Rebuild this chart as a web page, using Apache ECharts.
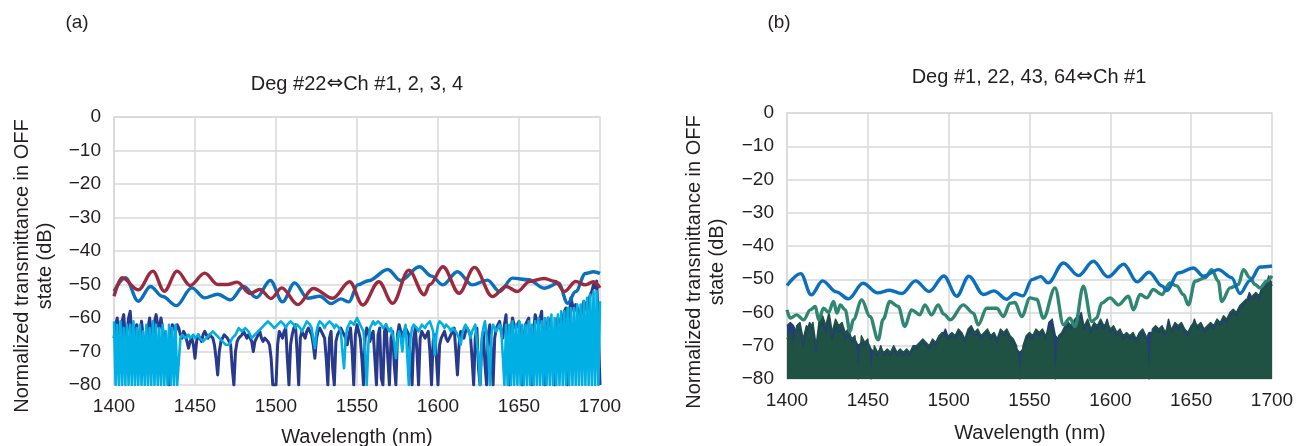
<!DOCTYPE html>
<html>
<head>
<meta charset="utf-8">
<script src="https://cdn.jsdelivr.net/npm/echarts@6/dist/echarts.min.js"></script>
<style>
html, body { margin: 0; padding: 0; background: #fff; }
#main { width: 1299px; height: 446px; }
</style>
</head>
<body>
<div id="main"></div>
<script>
// dense traces start at 1400 nm; (a) sampled every 1 nm, (b) every 2 nm
var gridStart = 1400, stepA = 1, stepB = 2;

// (a) Ch traces, smooth ones given at their turning points
var aBlueX = [1400, 1407, 1415, 1422.5, 1430, 1438.5, 1448, 1456, 1464, 1472, 1480, 1488, 1496.5, 1504, 1511.5, 1519.5, 1527, 1534, 1540, 1545, 1550.5, 1557, 1569, 1577, 1588.5, 1596, 1603, 1612, 1621, 1630.5, 1638, 1646, 1656, 1665.5, 1674.5, 1680, 1685, 1691, 1696, 1700];
var aBlueY = [-52, -48, -55, -50.6, -53.6, -56.3, -51, -54, -52.9, -54.6, -50.6, -53.9, -48.8, -55.2, -49.5, -54.1, -53.5, -55.7, -54.3, -55.2, -50.1, -48.9, -45.5, -48.8, -44.7, -47.5, -50.1, -46.2, -50.1, -48.7, -52.1, -48.1, -48.6, -51.1, -49.6, -55.6, -52.1, -46.7, -46.2, -46.7];
var aRedX = [1400, 1405, 1415, 1424, 1431, 1439, 1447, 1456, 1464, 1470, 1476, 1484, 1490, 1497, 1503.5, 1513.5, 1523, 1535, 1545.5, 1553.5, 1563.5, 1572, 1582, 1591.5, 1595, 1603, 1613, 1622.5, 1633.5, 1642, 1649, 1656.5, 1665.5, 1672.5, 1678, 1685, 1691, 1696, 1700];
var aRedY = [-53.5, -48, -51.6, -46, -52, -46, -50.3, -46.6, -50, -50, -49.3, -52.7, -51.5, -54.2, -51, -56, -51.2, -54.1, -49.2, -56.1, -49.2, -55.6, -45.7, -53.1, -50, -44.7, -52.6, -44.9, -53.6, -50.6, -52.1, -49.1, -48.2, -49.1, -52.1, -49.1, -50.1, -49.2, -51];
var aNavy = [
  -66, -62, -60, -68, -72, -61, -59, -66, -64, -60,
  -58, -65, -70, -63, -62, -68, -67, -61, -61, -70,
  -75, -63, -60, -64, -66, -61, -59, -62, -63, -60,
  -60, -66, -68, -74, -80, -65, -62, -63, -64, -62,
  -63, -65, -66, -64, -65, -67, -69, -67, -66, -68,
  -72, -67, -65, -66, -67, -65, -64, -65, -66, -65,
  -65, -66, -68, -72, -77, -70, -67, -66, -65, -65,
  -66, -67, -68, -75, -80, -70, -67, -66, -66, -65,
  -64, -65, -66, -65, -65, -67, -70, -67, -66, -65,
  -64, -66, -67, -66, -66, -67, -68, -72, -80, -80,
  -80, -68, -64, -65, -66, -64, -63, -72, -80, -68,
  -65, -63, -62, -70, -80, -66, -64, -65, -66, -64,
  -63, -64, -65, -68, -72, -66, -64, -63, -63, -65,
  -66, -72, -80, -66, -64, -75, -80, -67, -65, -64,
  -63, -64, -64, -66, -68, -65, -63, -70, -80, -65,
  -62, -64, -66, -72, -80, -66, -63, -64, -67, -65,
  -64, -72, -80, -65, -63, -78, -80, -64, -62, -72,
  -80, -66, -64, -74, -80, -65, -62, -64, -66, -64,
  -63, -64, -65, -72, -80, -66, -63, -70, -80, -66,
  -64, -65, -66, -65, -64, -70, -80, -67, -65, -72,
  -80, -68, -66, -65, -64, -66, -67, -66, -65, -64,
  -63, -70, -77, -68, -64, -65, -66, -64, -63, -64,
  -65, -72, -80, -66, -63, -75, -80, -68, -64, -74,
  -80, -65, -62, -70, -80, -66, -63, -62, -61, -64,
  -66, -62, -59, -72, -80, -64, -60, -62, -63, -62,
  -61, -70, -80, -66, -62, -61, -60, -72, -80, -64,
  -59, -61, -62, -60, -58, -72, -80, -64, -60, -62,
  -63, -72, -80, -65, -60, -61, -62, -60, -58, -57,
  -80, -60, -54, -56, -58, -56, -56, -58, -60, -57,
  -55, -56, -58, -55, -53, -52, -50, -51, -49, -49,
  -80
];
var aCyan = [
  -61, -80, -62, -80, -61, -80, -63, -80, -62, -80,
  -62, -80, -61, -80, -63, -80, -62, -80, -64, -80,
  -62, -80, -63, -80, -61, -80, -62, -80, -63, -80,
  -62, -80, -64, -80, -62, -80, -63, -80, -62, -80,
  -80, -66, -65, -65, -66, -66, -65, -66, -66, -65,
  -66, -66, -65, -66, -66, -67, -67, -66, -66, -65,
  -65, -64, -64, -65, -65, -66, -66, -67, -67, -68,
  -68, -68, -67, -66, -66, -65, -64, -63, -63, -64,
  -64, -63, -63, -64, -64, -66, -66, -65, -65, -64,
  -64, -63, -63, -62, -62, -61, -61, -62, -62, -63,
  -63, -62, -62, -61, -61, -62, -63, -62, -62, -61,
  -61, -62, -63, -62, -62, -63, -64, -63, -62, -61,
  -61, -62, -63, -66, -69, -64, -62, -61, -61, -62,
  -63, -62, -62, -61, -61, -62, -63, -62, -62, -63,
  -64, -70, -75, -66, -63, -62, -61, -61, -62, -61,
  -60, -61, -62, -63, -64, -70, -80, -68, -63, -62,
  -61, -62, -62, -61, -61, -62, -63, -63, -62, -63,
  -64, -63, -63, -67, -72, -66, -64, -66, -70, -64,
  -62, -71, -80, -66, -63, -62, -62, -63, -64, -63,
  -62, -62, -63, -62, -62, -61, -61, -64, -71, -65,
  -62, -61, -61, -62, -63, -62, -62, -63, -64, -63,
  -63, -64, -65, -66, -68, -65, -63, -62, -62, -64,
  -66, -64, -63, -62, -62, -72, -80, -66, -63, -61,
  -61, -70, -80, -65, -62, -63, -64, -63, -62, -63,
  -63, -80, -62, -80, -62, -80, -61, -80, -62, -80,
  -61, -80, -62, -80, -62, -80, -61, -80, -62, -80,
  -61, -80, -60, -80, -61, -80, -60, -80, -60, -80,
  -59, -80, -60, -80, -59, -80, -58, -80, -58, -80,
  -57, -80, -57, -80, -57, -80, -56, -80, -56, -80,
  -55, -80, -54, -80, -53, -80, -52, -80, -52, -80,
  -55
];

// (b) Deg traces
var bBlueX = [1400, 1408.5, 1415, 1422, 1430.5, 1438, 1447, 1456, 1463.5, 1471, 1479.5, 1488, 1497, 1505, 1512.5, 1521.5, 1528, 1535.8, 1541, 1546, 1551.5, 1557, 1561.5, 1571, 1580.3, 1589.5, 1598.5, 1608.3, 1616.5, 1624, 1632, 1635, 1642, 1651.4, 1657.6, 1666.8, 1675, 1680.2, 1686.4, 1692.6, 1700];
var bBlueY = [-51.9, -48.3, -54.7, -50.5, -53.8, -55.9, -51.2, -54.1, -53.3, -54.3, -50.5, -53.7, -49, -55.1, -49.1, -54.6, -53.5, -56, -54.3, -55, -50.1, -49.2, -51.1, -45.1, -48.9, -44.6, -49.3, -45.5, -50.8, -47.9, -52, -53.4, -48.1, -46.6, -49.1, -47.1, -49.5, -54.3, -50.4, -46.3, -46];
var bTealX = [1400, 1402, 1406, 1410.3, 1414.4, 1417.5, 1419.6, 1422.6, 1425.7, 1428.8, 1430.9, 1433, 1436, 1439, 1441, 1446.2, 1451.3, 1456.4, 1459.5, 1463.6, 1468.8, 1472.9, 1477, 1482.2, 1485.3, 1489.4, 1493.5, 1497, 1501, 1509, 1515.3, 1518.3, 1523.5, 1529.7, 1533.8, 1538, 1541, 1545.2, 1550.3, 1554.4, 1558.6, 1565.8, 1571, 1575, 1578.1, 1583.3, 1588.5, 1591.5, 1594.6, 1599.8, 1605, 1611.2, 1614.3, 1618.4, 1622.5, 1626.6, 1631.8, 1636.9, 1641, 1645.2, 1648.3, 1652.4, 1658.6, 1662.7, 1666.8, 1668.9, 1674.1, 1679.2, 1682.3, 1686.4, 1689.5, 1692.6, 1696.7, 1700];
var bTealY = [-59.2, -61.7, -60.7, -62.2, -59.2, -58.2, -62.2, -58.7, -60, -56.7, -60.2, -57.7, -59.2, -65.7, -62.2, -56.2, -61.2, -68.2, -62, -56.7, -58.2, -64.2, -59.2, -60.7, -57.7, -60.7, -57.7, -60.5, -62.2, -57.7, -60.2, -63.7, -58.7, -58.7, -61.2, -57.2, -57, -61.2, -55.6, -56, -61.7, -52.6, -63.7, -61.7, -64.2, -52.1, -62.7, -61.7, -57.2, -55.6, -57.7, -55.1, -59.2, -54.6, -55.6, -53.1, -54.6, -51.1, -52, -54.6, -57.7, -50.6, -49.6, -47.1, -50.6, -56.7, -52.6, -51.6, -47.1, -49.6, -51.6, -52.6, -50.6, -49];
var bNavy = [
  -64, -63, -64, -66, -65, -70, -66, -63, -65, -72,
  -64, -63, -66, -62, -68, -64, -66, -65, -68, -67,
  -69, -68, -70, -69, -70, -69, -71, -72, -73, -70,
  -73, -72, -73, -71, -73, -72, -73, -72, -73, -71,
  -71, -70, -69, -70, -71, -69, -70, -68, -67, -65,
  -68, -67, -68, -66, -67, -69, -66, -65, -67, -66,
  -68, -67, -66, -68, -67, -69, -66, -67, -66, -68,
  -69, -71, -72, -71, -68, -67, -68, -66, -67, -66,
  -68, -63, -62, -67, -68, -67, -65, -64, -65, -63,
  -62, -60, -65, -63, -66, -64, -65, -63, -65, -62,
  -66, -65, -67, -66, -68, -67, -68, -67, -69, -67,
  -66, -68, -66, -66, -65, -66, -65, -67, -62, -66,
  -64, -65, -64, -66, -67, -65, -62, -65, -64, -66,
  -65, -64, -65, -63, -64, -62, -63, -61, -60, -61,
  -59, -58, -57, -54, -56, -55, -56, -53, -52, -49,
  -52
];
var bGreen = [
  -68, -66, -72, -64, -63, -68, -64, -65, -63, -70,
  -62, -61, -64, -60, -66, -62, -64, -63, -66, -65,
  -68, -67, -80, -67, -69, -68, -80, -70, -72, -71,
  -72, -71, -72, -70, -72, -71, -72, -71, -72, -70,
  -70, -69, -68, -69, -70, -68, -69, -67, -66, -68,
  -67, -66, -67, -65, -66, -68, -65, -64, -66, -65,
  -67, -66, -65, -67, -66, -68, -65, -66, -65, -67,
  -68, -70, -80, -70, -67, -66, -67, -65, -66, -65,
  -67, -65, -66, -80, -67, -66, -64, -63, -64, -62,
  -61, -63, -64, -62, -65, -63, -64, -62, -64, -63,
  -65, -64, -66, -65, -67, -66, -67, -66, -68, -66,
  -65, -67, -80, -65, -64, -65, -64, -66, -64, -65,
  -63, -64, -63, -65, -66, -64, -63, -64, -63, -65,
  -64, -63, -64, -62, -63, -61, -62, -60, -59, -60,
  -58, -57, -56, -57, -55, -54, -55, -52, -51, -50,
  -51
];

var xTicks = [1400, 1700, 50];
var yTicks = [-80, 0, 10];

function pairs(xs, ys) {
  return xs.map(function (x, i) { return [x, ys[i]]; });
}
function onGrid(ys, step) {
  return ys.map(function (y, i) { return [gridStart + i * step, y]; });
}

var txt = '#231f20';
var gridGray = '#d9d9d9';
var fam = '"Liberation Sans", Arial, "DejaVu Sans", sans-serif';

function xAx(idx) {
  return {
    type: 'value', gridIndex: idx, min: xTicks[0], max: xTicks[1], interval: xTicks[2],
    axisLine: { show: true, lineStyle: { color: gridGray, width: 1.5 } },
    axisTick: { show: false },
    splitLine: { show: true, lineStyle: { color: gridGray, width: 1.5 } },
    axisLabel: {
      color: txt, fontSize: 19, fontFamily: fam, margin: 12,
      formatter: function (v) { return String(v); }
    }
  };
}
function yAx(idx) {
  return {
    type: 'value', gridIndex: idx, min: yTicks[0], max: yTicks[1], interval: yTicks[2],
    axisLine: { show: true, lineStyle: { color: gridGray, width: 1.5 } },
    axisTick: { show: false },
    splitLine: { show: true, lineStyle: { color: gridGray, width: 1.5 } },
    axisLabel: {
      color: txt, fontSize: 19, fontFamily: fam, margin: 13,
      formatter: function (v) { return String(v).replace('-', '\u2212'); }
    }
  };
}
function trace(idx, data, color, w, area) {
  var s = {
    type: 'line', xAxisIndex: idx, yAxisIndex: idx, data: data,
    showSymbol: false, symbol: 'none', sampling: null,
    lineStyle: { color: color, width: w, join: 'round' }, itemStyle: { color: color },
    animation: false
  };
  if (area) s.areaStyle = { color: color, opacity: 1, origin: 'start' };
  return s;
}
function smoothTrace(idx, data, color) {
  var s = trace(idx, data, color, 3.4);
  s.smooth = 0.35;
  s.smoothMonotone = 'x';
  return s;
}
function label(x, y, text, size, rot) {
  return {
    type: 'text', x: x, y: y, rotation: rot || 0,
    style: {
      text: text, fill: txt, font: size + 'px ' + fam,
      align: 'center', verticalAlign: 'middle', lineHeight: 23,
      rich: { arr: { fontFamily: '"DejaVu Sans"', fontSize: size, fill: txt, color: txt } }
    }
  };
}

var chart = echarts.init(document.getElementById('main'), null, { renderer: 'canvas' });
chart.setOption({
  backgroundColor: '#ffffff',
  animation: false,
  grid: [
    { left: 114, top: 117, width: 486, height: 268 },
    { left: 787, top: 113, width: 485, height: 266 }
  ],
  xAxis: [xAx(0), xAx(1)],
  yAxis: [yAx(0), yAx(1)],
  series: [
    trace(0, onGrid(aNavy, stepA), '#283a8c', 3),
    trace(0, onGrid(aCyan, stepA), '#00afe3', 2.6),
    smoothTrace(0, pairs(aBlueX, aBlueY), '#0a6fbd'),
    smoothTrace(0, pairs(aRedX, aRedY), '#9b2a3e'),
    trace(1, onGrid(bNavy, stepB), '#213f70', 1.5, true),
    trace(1, onGrid(bGreen, stepB), '#1f5243', 1.5, true),
    smoothTrace(1, pairs(bTealX, bTealY), '#2f8671'),
    smoothTrace(1, pairs(bBlueX, bBlueY), '#0a6fbd')
  ],
  graphic: [
    label(77, 23, '(a)', 19),
    label(779, 23, '(b)', 19),
    label(357, 84, 'Deg #22{arr|\u21d4}Ch #1, 2, 3, 4', 20),
    label(1029, 77, 'Deg #1, 22, 43, 64{arr|\u21d4}Ch #1', 20),
    label(34, 266, 'Normalized transmittance in OFF\nstate (dB)', 20, Math.PI / 2),
    label(706, 262, 'Normalized transmittance in OFF\nstate (dB)', 20, Math.PI / 2),
    label(357, 437, 'Wavelength (nm)', 20),
    label(1030, 433, 'Wavelength (nm)', 20)
  ]
});
</script>
</body>
</html>
